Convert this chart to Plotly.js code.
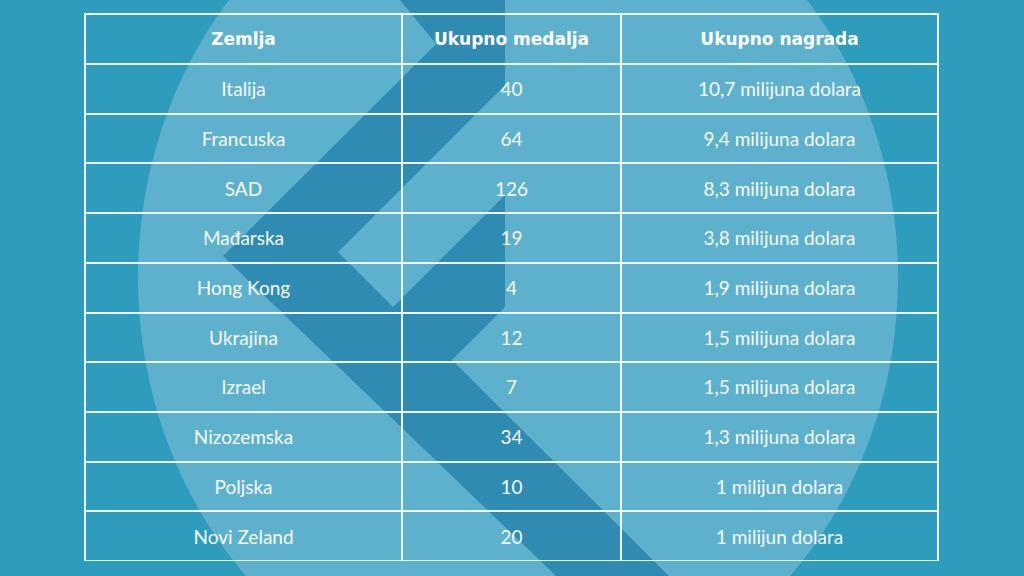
<!DOCTYPE html>
<html>
<head>
<meta charset="utf-8">
<script src="https://cdn.plot.ly/plotly-3.0.1.min.js"></script>
<style>
  html, body { margin: 0; padding: 0; background: #2e9cbc; }
  #tablica { width: 1024px; height: 576px; }
</style>
</head>
<body>
<div id="tablica"></div>
<script>
var zaglavlje = ["<b>Zemlja</b>", "<b>Ukupno medalja</b>", "<b>Ukupno nagrada</b>"];

var zemlje = ["Italija", "Francuska", "SAD", "Mađarska", "Hong Kong",
              "Ukrajina", "Izrael", "Nizozemska", "Poljska", "Novi Zeland"];

var medalje = [40, 64, 126, 19, 4, 12, 7, 34, 10, 20];

var nagrade = ["10,7 milijuna dolara", "9,4 milijuna dolara", "8,3 milijuna dolara",
               "3,8 milijuna dolara", "1,9 milijuna dolara", "1,5 milijuna dolara",
               "1,5 milijuna dolara", "1,3 milijuna dolara", "1 milijun dolara",
               "1 milijun dolara"];

// pozadina (krug i tamni znak), u pikselima 1024x576
var W = 1024, H = 576;
function px(x) { return x / W; }
function py(y) { return 1 - y / H; }
function put(tocke) {
    return tocke.map(function (t, i) {
        return (i ? "L" : "M") + px(t[0]).toFixed(4) + "," + py(t[1]).toFixed(4);
    }).join(" ") + " Z";
}

var znak = [
    [400, 0], [505, 0], [505, 85], [338, 252], [393, 307], [505, 195],
    [505, 307], [452, 360], [669, 576], [556, 576], [223, 256], [436, 44]
];

var bijela = "#eef8fb";
var prazno = function (niz) { return niz.map(function () { return ""; }); };

// tablica se crta dvaput: okvir s mrezom, pa tekst malo nize (nema vertikalnog centriranja)
var pomak = 7;

var data = [
    {
        type: "table",
        domain: { x: [px(85), px(938)], y: [py(561), py(14)] },
        columnwidth: [317, 219, 317],
        header: {
            values: prazno(zaglavlje),
            height: 50,
            fill: { color: "rgba(0,0,0,0)" },
            line: { color: bijela, width: 2 }
        },
        cells: {
            values: [prazno(zemlje), prazno(medalje), prazno(nagrade)],
            height: 49.7,
            fill: { color: "rgba(0,0,0,0)" },
            line: { color: bijela, width: 2 }
        }
    },
    {
        type: "table",
        domain: { x: [px(85), px(938)], y: [py(561 + pomak), py(14 + pomak)] },
        columnwidth: [317, 219, 317],
        header: {
            values: zaglavlje,
            align: "center",
            height: 53,
            fill: { color: "rgba(0,0,0,0)" },
            line: { color: "rgba(0,0,0,0)", width: 0 },
            font: { family: "DejaVu Sans, sans-serif", size: 17, color: "#ffffff" }
        },
        cells: {
            values: [zemlje, medalje, nagrade],
            align: "center",
            height: 49.7,
            fill: { color: "rgba(0,0,0,0)" },
            line: { color: "rgba(0,0,0,0)", width: 0 },
            font: { family: "Lato, sans-serif", size: 19, color: "#f6fbfd" }
        }
    }
];

var layout = {
    width: 1024,
    height: 576,
    margin: { l: 0, r: 0, t: 0, b: 0 },
    paper_bgcolor: "#2e9cbc",
    plot_bgcolor: "#2e9cbc",
    showlegend: false,
    shapes: [
        {
            type: "circle", xref: "paper", yref: "paper", layer: "below",
            x0: px(138), x1: px(898), y0: py(705), y1: py(-150),
            fillcolor: "#5eb1cc", line: { width: 0 }
        },
        {
            type: "path", xref: "paper", yref: "paper", layer: "below",
            path: put(znak),
            fillcolor: "#2f8bb2", line: { width: 0 }
        }
    ]
};

var config = { responsive: false, displayModeBar: false, staticPlot: true };
Plotly.newPlot("tablica", data, layout, config);
</script>
</body>
</html>
